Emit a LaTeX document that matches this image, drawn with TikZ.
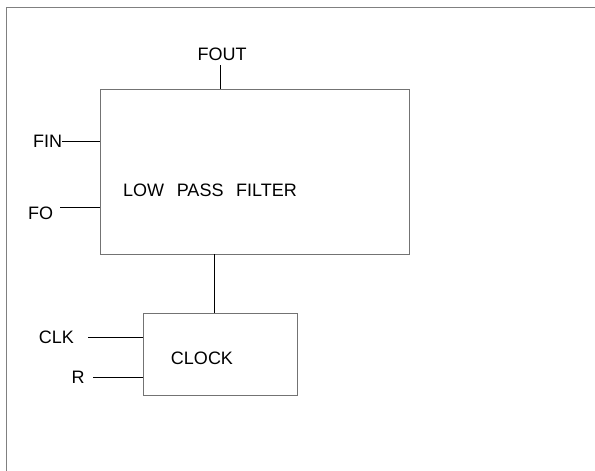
\documentclass[tikz,border=0pt]{standalone}
\usepackage{fontspec}
\setmainfont{Liberation Sans}
\begin{document}
\begin{tikzpicture}[x=1pt,y=-1pt,
  frameline/.style={draw=black!50,line width=0.9pt},
  boxline/.style={draw=black!55,line width=0.9pt},
  wire/.style={draw=black,line width=0.9pt},
  lbl/.style={inner sep=0pt,font=\fontsize{18}{20}\selectfont}]
\useasboundingbox (0,0) rectangle (595,471);
% page frame
\coordinate (fl) at (6,471);
\coordinate (ftl) at (6,7);
\coordinate (fr) at (595,7);
\draw[frameline] (fl) -- (ftl) -- (fr);
% blocks
\node[boxline,rectangle,minimum width=309pt,minimum height=165pt,inner sep=0pt] (lpf) at (254.5,171.5) {};
\node[boxline,rectangle,minimum width=154pt,minimum height=82pt,inner sep=0pt] (clk) at (220,354) {};
\node[lbl] (lpft) at (210,190) {LOW\hspace{0.7em}PASS\hspace{0.7em}FILTER};
\node[lbl] (clkt) at (202,358) {CLOCK};
% pin labels
\node[lbl] (fout) at (222,54) {FOUT};
\node[lbl] (fin) at (47.5,141) {FIN};
\node[lbl] (fo) at (40.5,213) {FO};
\node[lbl] (clkin) at (56.5,337) {CLK};
\node[lbl] (rin) at (78,377) {R};
% pin wires
\coordinate (foutend) at (220,65);
\draw[wire] (foutend) -- (foutend |- lpf.north);
\draw[wire] (fin.east) -- (fin.east -| lpf.west);
\coordinate (fostart) at (60,207);
\draw[wire] (fostart) -- (fostart -| lpf.west);
\coordinate (lpfout) at (214,254);
\draw[wire] (lpfout |- lpf.south) -- (lpfout |- clk.north);
\coordinate (clkstart) at (88,337);
\draw[wire] (clkstart) -- (clkstart -| clk.west);
\coordinate (rstart) at (93,377);
\draw[wire] (rstart) -- (rstart -| clk.west);
\end{tikzpicture}
\end{document}
